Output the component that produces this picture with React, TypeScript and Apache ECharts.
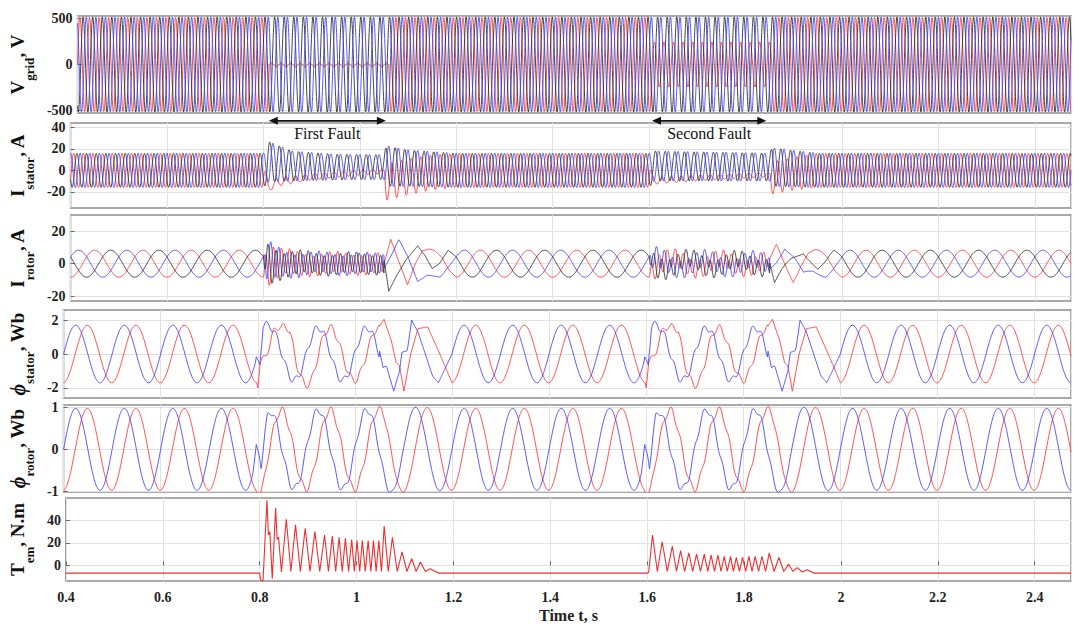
import React, { useEffect, useRef } from "react";
import * as echarts from "echarts";

type KP = [number, number][];

// ---------------- time axis ----------------
const T_START = 0.4;
const T_END = 2.475;
const F_GRID = 50; // Hz
const F_SLIP = 10; // Hz
const F_ROTOR_RIPPLE = 60; // Hz
const FAULT_ONSETS = [0.8, 1.6];
const FAULT_CLEARS = [1.05, 1.85];

// ---------------- annotations ----------------
const FAULT_LABELS = ["First Fault", "Second Fault"];
const FAULT_ARROWS: [number, number][] = [
  [0.811, 1.054],
  [1.606, 1.843],
];

// ---------------- y ticks ----------------
const VGRID_TICKS = [-500, 0, 500];
const ISTATOR_TICKS = [-20, 0, 20, 40];
const IROTOR_TICKS = [-20, 0, 20];
const PHIS_TICKS = [-2, 0, 2];
const PHIR_TICKS = [-1, 0, 1];
const TEM_TICKS = [0, 20, 40];

// ---------------- grid voltage (V) ----------------
const VGRID_HEALTHY_AMP: KP = [[0.4, 515], [2.475, 515]];
const VGRID_RED_AMP: KP = [
  [0.4, 515], [0.8, 515], [0.8, 20], [1.05, 20], [1.05, 515],
  [1.6, 515], [1.6, 245], [1.85, 245], [1.85, 515], [2.475, 515],
];
const VGRID_RED_OFF: KP = [[0.4, 0], [0.8, 0], [0.8, -5], [1.05, -5], [1.05, 0], [2.475, 0]];
const ZERO: KP = [[0.4, 0], [2.475, 0]];

// ---------------- stator current (A) ----------------
const IS_RED_AMP: KP = [
  [0.4, 16], [0.8, 16], [0.805, 4], [0.9, 3], [1.05, 2], [1.052, 17], [1.1, 17], [1.2, 16],
  [1.6, 16], [1.605, 3], [1.85, 2], [1.852, 15], [1.95, 16], [2.475, 16],
];
const IS_RED_OFF: KP = [
  [0.4, 0], [0.8, 0], [0.81, -16], [0.83, -11], [0.9, -6], [1.0, -2], [1.05, -1],
  [1.055, -11], [1.1, -6], [1.15, -2], [1.2, 0],
  [1.6, 0], [1.61, -10], [1.7, -7], [1.85, -4], [1.855, -7], [1.9, -3], [1.95, 0], [2.475, 0],
];
const IS_HEALTHY_AMP: KP = [
  [0.4, 16], [0.8, 16], [0.81, 19], [0.86, 14], [0.95, 12], [1.05, 11.5], [1.055, 19], [1.1, 17], [1.2, 16],
  [1.6, 16], [1.61, 14], [1.85, 13], [1.855, 18], [1.95, 16], [2.475, 16],
];
const IS_HEALTHY_OFF: KP = [
  [0.4, 0], [0.8, 0], [0.81, 8], [0.86, 4], [0.95, 3], [1.05, 3], [1.055, 4], [1.1, 2], [1.2, 0],
  [1.6, 0], [1.61, 4], [1.85, 3], [1.855, 3], [1.95, 0], [2.475, 0],
];

// ---------------- rotor current (A) ----------------
const IR_PEAK_TIME = { blue: 0.4167, red: 0.45, black: 0.4833 };
const IR_NOMINAL = 8.3;
const IR_AMP: KP = [
  [0.4, 8.3], [0.8, 8.3], [0.81, 2], [1.05, 1], [1.05, 8.3],
  [1.6, 8.3], [1.61, 4], [1.85, 3], [1.85, 8.3], [2.475, 8.3],
];
const IR_RIPPLE: KP = [
  [0.4, 0], [0.8, 0], [0.806, 13], [0.84, 8], [0.9, 6.5], [1.05, 6], [1.05, 0],
  [1.6, 0], [1.606, 7], [1.65, 5.5], [1.85, 5], [1.85, 0], [2.475, 0],
];
const IR_POST_SPAN = 0.15;
const IR_POST_SCALE = [1, 0.7];
const IR_RED_POST: KP = [
  [0, 0], [0.014, 15], [0.03, 2], [0.049, -13], [0.065, 0], [0.08, 8], [0.095, 9], [0.105, 8],
  [0.12, 4], [0.135, -4], [0.15, -8.3],
];
const IR_BLUE_POST: KP = [
  [0, -3], [0.015, 5], [0.031, 15], [0.05, 4], [0.07, -11], [0.09, -7], [0.117, -8.3], [0.15, 4.15],
];
const IR_BLACK_POST: KP = [
  [0, 3], [0.01, -17], [0.025, -8], [0.045, 2], [0.07, 11], [0.085, 5], [0.1, -3], [0.115, 0],
  [0.133, 8.3], [0.15, 4.15],
];

// ---------------- stator flux (Wb) ----------------
const PS_PEAK_TIME = { blue: 0.425, red: 0.449 };
const PS_AMP: KP = [
  [0.4, 1.7], [0.8, 1.7], [0.81, 1.55], [1.05, 1.55], [1.05, 1.7],
  [1.6, 1.7], [1.61, 1.55], [1.85, 1.55], [1.85, 1.7], [2.475, 1.7],
];
const PS_RIPPLE: KP = [
  [0.4, 0], [0.8, 0], [0.805, 0.22], [1.05, 0.2], [1.05, 0],
  [1.6, 0], [1.605, 0.22], [1.85, 0.2], [1.85, 0], [2.475, 0],
];
const PS_BLUE_ONSET: KP = [[-0.005, 0], [-0.003, 0.15], [0.004, -1.0], [0.011, 0.7], [0.02, 0.2], [0.03, 0]];
const PS_RED_ONSET: KP = [
  [-0.002, 0], [0, -0.3], [0.005, 1.1], [0.015, 0.6], [0.035, 0.45], [0.049, -0.05], [0.066, 0.6],
  [0.08, 0], [0.11, -0.4], [0.13, 0],
];
const PS_POST_SPAN = 0.15;
const PS_BLUE_POST: KP = [
  [0, 0.3], [0.008, -0.8], [0.015, -0.7], [0.03, -2.2], [0.042, -1.0], [0.047, 0.1], [0.058, 0.2],
  [0.067, 2.0], [0.08, 1.3], [0.095, 0.0], [0.11, -1.3], [0.122, -1.7], [0.15, 0],
];
const PS_RED_POST: KP = [
  [0, 1.6], [0.01, 2.05], [0.025, 0.8], [0.035, -0.5], [0.042, -0.7], [0.051, -2.2], [0.065, 0.0],
  [0.08, 1.5], [0.1, 1.6], [0.125, 0], [0.15, -1.7],
];

// ---------------- rotor flux (Wb) ----------------
const PR_PEAK_TIME = { blue: 0.425, red: 0.449 };
const PR_AMP: KP = [
  [0.4, 0.98], [0.8, 0.98], [0.81, 0.93], [1.05, 0.95], [1.06, 1.03], [1.2, 0.98],
  [1.6, 0.98], [1.61, 0.93], [1.85, 0.95], [1.86, 1.03], [2.0, 0.98], [2.475, 0.98],
];
const PR_RIPPLE: KP = [
  [0.4, 0], [0.8, 0], [0.805, 0.09], [1.05, 0.08], [1.08, 0.03], [1.12, 0],
  [1.6, 0], [1.605, 0.09], [1.85, 0.08], [1.88, 0.03], [1.92, 0], [2.475, 0],
];
const PR_BLUE_ONSET: KP = [[-0.01, 0], [-0.003, 0.3], [0.007, -0.78], [0.02, -0.1], [0.03, 0]];
const PR_RED_ONSET: KP = [[-0.005, 0], [0.01, -0.2], [0.02, 0]];

// ---------------- electromagnetic torque (N.m) ----------------
const TEM_BASE = -7;
const TEM_TROUGH = -5.5;
const TEM_F1_HEAD: KP = [
  [0.8, -7], [0.802, -13.5], [0.807, -13.5], [0.815, 58], [0.818, 27], [0.821, 30], [0.826, -12],
  [0.833, 51], [0.836, 23], [0.839, 25], [0.845, -6],
];
const TEM_F1_PEAKS: KP = [
  [0.855, 41], [0.874, 36], [0.894, 33], [0.914, 30], [0.934, 27], [0.95, 26], [0.964, 25],
  [0.977, 24], [0.99, 23], [1.001, 22], [1.012, 22], [1.024, 22], [1.035, 22], [1.046, 22],
  [1.057, 35], [1.074, 25], [1.094, 12], [1.114, 6], [1.132, 3], [1.152, -3],
];
const TEM_F1_END = 1.17;
const TEM_F2_HEAD: KP = [[1.6, -7], [1.603, -6.5]];
const TEM_F2_PEAKS: KP = [
  [1.611, 27], [1.631, 21], [1.652, 17], [1.669, 13], [1.686, 11], [1.702, 10], [1.718, 10],
  [1.732, 9], [1.746, 9], [1.759, 8], [1.772, 8], [1.784, 7], [1.797, 7], [1.81, 8], [1.823, 8],
  [1.837, 8], [1.852, 11], [1.872, 7], [1.892, 1], [1.91, -2], [1.93, -4],
];
const TEM_F2_END = 1.945;

// ---------------- styles ----------------
const SERIF = "'Liberation Serif', 'Times New Roman', serif";
const RED = "#ff3c3c";
const BLUE = "#4646ff";
const BLACK = "#333333";
const GRID_LINE = "#e2e2e2";
const FRAME = "#8e8e8e";
const LW = 0.9;

function lerp(kp: KP, t: number): number {
  if (t <= kp[0][0]) return kp[0][1];
  for (let i = 1; i < kp.length; i++) {
    if (t <= kp[i][0]) {
      const [t0, v0] = kp[i - 1];
      const [t1, v1] = kp[i];
      if (t1 === t0) return v1;
      return v0 + ((v1 - v0) * (t - t0)) / (t1 - t0);
    }
  }
  return kp[kp.length - 1][1];
}

function sampled(step: number, fn: (t: number) => number): KP {
  const n = Math.round((T_END - T_START) / step);
  const out: KP = [];
  for (let i = 0; i <= n; i++) {
    const t = T_START + i * step;
    out.push([t, fn(t)]);
  }
  return out;
}

const TWO_PI = Math.PI * 2;
const PH = TWO_PI / 3;
const W = TWO_PI * F_GRID;
const WS = TWO_PI * F_SLIP;
const WR = TWO_PI * F_ROTOR_RIPPLE;

function onsetSum(kp: KP, t: number): number {
  let d = 0;
  FAULT_ONSETS.forEach((t0) => {
    const r = t - t0;
    if (r >= kp[0][0] && r <= kp[kp.length - 1][0]) d += lerp(kp, r);
  });
  return d;
}

function rotorCurrent(t: number, tp: number, theta: number, post: KP): number {
  const nat = IR_NOMINAL * Math.cos(WS * (t - tp));
  for (let k = 0; k < FAULT_CLEARS.length; k++) {
    const r = t - FAULT_CLEARS[k];
    if (r > 0 && r <= IR_POST_SPAN) return nat + IR_POST_SCALE[k] * (lerp(post, r) - nat);
  }
  return lerp(IR_AMP, t) * Math.cos(WS * (t - tp)) + lerp(IR_RIPPLE, t) * Math.sin(WR * t + theta);
}

function statorFlux(t: number, tp: number, theta: number, onset: KP, post: KP): number {
  for (let k = 0; k < FAULT_CLEARS.length; k++) {
    const r = t - FAULT_CLEARS[k];
    if (r > 0 && r <= PS_POST_SPAN) return lerp(post, r);
  }
  return lerp(PS_AMP, t) * Math.cos(WS * (t - tp)) + lerp(PS_RIPPLE, t) * Math.sin(W * t + theta) + onsetSum(onset, t);
}

function rotorFlux(t: number, tp: number, theta: number, onset: KP): number {
  return lerp(PR_AMP, t) * Math.cos(WS * (t - tp)) + lerp(PR_RIPPLE, t) * Math.sin(W * t + theta) + onsetSum(onset, t);
}

function torquePoints(): KP {
  const pts: KP = [[T_START, TEM_BASE]];
  const addBurst = (head: KP, peaks: KP, end: number) => {
    head.forEach((p) => pts.push(p));
    peaks.forEach((p, i) => {
      pts.push(p);
      const next = peaks[i + 1];
      if (next) pts.push([(p[0] + next[0]) / 2, Math.min(TEM_TROUGH, next[1] - 2)]);
    });
    pts.push([end, TEM_BASE]);
  };
  addBurst(TEM_F1_HEAD, TEM_F1_PEAKS, TEM_F1_END);
  addBurst(TEM_F2_HEAD, TEM_F2_PEAKS, TEM_F2_END);
  pts.push([T_END, TEM_BASE]);
  return pts;
}

function buildOption() {
  const layout = [
    { top: 16, height: 97, min: -525, max: 525, ticks: VGRID_TICKS, name: "{b|V}{s|grid}{b|, V}" },
    { top: 123, height: 85, min: -35, max: 44, ticks: ISTATOR_TICKS, name: "{b|I}{s|stator}{b|, A}" },
    { top: 215, height: 86, min: -23, max: 30, ticks: IROTOR_TICKS, name: "{b|I}{s|rotor}{b|, A}" },
    { top: 310, height: 88, min: -2.6, max: 2.6, ticks: PHIS_TICKS, name: "{p|ϕ}{s|stator}{b|, Wb}" },
    { top: 405, height: 87, min: -1.02, max: 1.06, ticks: PHIR_TICKS, name: "{p|ϕ}{s|rotor}{b|, Wb}" },
    { top: 498, height: 85, min: -14, max: 60, ticks: TEM_TICKS, name: "{b|T}{s|em}{b|, N.m}" },
  ];
  const rich = {
    b: { fontFamily: SERIF, fontWeight: "bold", fontSize: 19, lineHeight: 28, verticalAlign: "top", color: "#111" },
    p: { fontFamily: SERIF, fontWeight: "bold", fontStyle: "italic", fontSize: 20, lineHeight: 28, verticalAlign: "top", color: "#111" },
    s: { fontFamily: SERIF, fontWeight: "bold", fontSize: 13, lineHeight: 12, verticalAlign: "bottom", color: "#111" },
  };

  const grid = layout.map((l) => ({
    left: 62, right: 3, top: l.top, height: l.height, show: true,
    borderColor: FRAME, borderWidth: 1.5, backgroundColor: "#fff",
  }));
  const xAxis = layout.map((_, i) => ({
    type: "value", gridIndex: i, min: T_START, max: T_END, interval: 0.2,
    axisLine: { show: false },
    axisTick: { show: i === 5, inside: true, length: 4, lineStyle: { color: "#666" } },
    splitLine: { show: true, lineStyle: { color: GRID_LINE, width: 1 } },
    axisLabel: {
      show: i === 5, showMaxLabel: false, margin: 9,
      fontFamily: SERIF, fontWeight: "bold", fontSize: 14, color: "#222",
      formatter: (v: number) => String(Number(v.toFixed(1))),
    },
    name: i === 5 ? "Time t, s" : "",
    nameLocation: "middle", nameGap: 26,
    nameTextStyle: { fontFamily: SERIF, fontWeight: "bold", fontSize: 16, color: "#222" },
  }));
  const yAxis = layout.map((l, i) => ({
    type: "value", gridIndex: i, min: l.min, max: l.max,
    axisLine: { show: false },
    axisTick: { show: true, inside: true, length: 4, customValues: l.ticks, lineStyle: { color: "#666" } },
    splitLine: { show: true, lineStyle: { color: GRID_LINE, width: 1 } },
    axisLabel: {
      customValues: l.ticks, margin: 5,
      fontFamily: SERIF, fontWeight: "bold", fontSize: 14, color: "#222",
    },
    name: l.name, nameLocation: "middle", nameGap: 24, nameRotate: 90,
    nameTextStyle: { rich },
  }));

  const line = (gi: number, color: string, data: KP, width = LW) => ({
    type: "line", xAxisIndex: gi, yAxisIndex: gi, data, showSymbol: false, symbol: "none",
    lineStyle: { color, width }, silent: true, clip: true,
  });

  const series: any[] = [
    line(0, RED, sampled(0.0005, (t) => lerp(VGRID_RED_OFF, t) + lerp(VGRID_RED_AMP, t) * Math.sin(W * t))),
    line(0, BLACK, sampled(0.0005, (t) => lerp(ZERO, t) + lerp(VGRID_HEALTHY_AMP, t) * Math.sin(W * t - PH))),
    line(0, BLUE, sampled(0.0005, (t) => lerp(ZERO, t) + lerp(VGRID_HEALTHY_AMP, t) * Math.sin(W * t + PH))),
    line(1, RED, sampled(0.0005, (t) => lerp(IS_RED_OFF, t) + lerp(IS_RED_AMP, t) * Math.sin(W * t - 0.5))),
    line(1, BLACK, sampled(0.0005, (t) => lerp(IS_HEALTHY_OFF, t) + lerp(IS_HEALTHY_AMP, t) * Math.sin(W * t - 0.5 - PH))),
    line(1, BLUE, sampled(0.0005, (t) => lerp(IS_HEALTHY_OFF, t) + lerp(IS_HEALTHY_AMP, t) * Math.sin(W * t - 0.5 + PH))),
    line(2, RED, sampled(0.0005, (t) => rotorCurrent(t, IR_PEAK_TIME.red, 0, IR_RED_POST))),
    line(2, BLUE, sampled(0.0005, (t) => rotorCurrent(t, IR_PEAK_TIME.blue, PH, IR_BLUE_POST))),
    line(2, BLACK, sampled(0.0005, (t) => rotorCurrent(t, IR_PEAK_TIME.black, -PH, IR_BLACK_POST))),
    line(3, RED, sampled(0.001, (t) => statorFlux(t, PS_PEAK_TIME.red, -PH, PS_RED_ONSET, PS_RED_POST))),
    line(3, BLUE, sampled(0.001, (t) => statorFlux(t, PS_PEAK_TIME.blue, PH, PS_BLUE_ONSET, PS_BLUE_POST))),
    line(4, RED, sampled(0.001, (t) => rotorFlux(t, PR_PEAK_TIME.red, -PH, PR_RED_ONSET))),
    line(4, BLUE, sampled(0.001, (t) => rotorFlux(t, PR_PEAK_TIME.blue, PH, PR_BLUE_ONSET))),
    line(5, "#ee2f2f", torquePoints(), 1.1),
  ];

  return { animation: false, backgroundColor: "#fff", grid, xAxis, yAxis, series };
}

export default function App() {
  const ref = useRef<HTMLDivElement>(null);
  useEffect(() => {
    if (!ref.current) return;
    const chart = echarts.init(ref.current, undefined, { renderer: "svg" });
    chart.setOption(buildOption() as any);
    const graphic: any[] = [];
    FAULT_ARROWS.forEach(([t0, t1], i) => {
      const p0 = chart.convertToPixel({ xAxisIndex: 1, yAxisIndex: 1 } as any, [t0, 46]) as number[];
      const p1 = chart.convertToPixel({ xAxisIndex: 1, yAxisIndex: 1 } as any, [t1, 46]) as number[];
      const pt = chart.convertToPixel({ xAxisIndex: 1, yAxisIndex: 1 } as any, [(t0 + t1) / 2, 34.5]) as number[];
      const y = p0[1];
      graphic.push(
        { type: "line", shape: { x1: p0[0] + 4, y1: y, x2: p1[0] - 4, y2: y }, style: { stroke: "#111", lineWidth: 1.6 }, z: 100 },
        { type: "polygon", shape: { points: [[p0[0], y], [p0[0] + 9, y - 4], [p0[0] + 9, y + 4]] }, style: { fill: "#111" }, z: 100 },
        { type: "polygon", shape: { points: [[p1[0], y], [p1[0] - 9, y - 4], [p1[0] - 9, y + 4]] }, style: { fill: "#111" }, z: 100 },
        {
          type: "text", x: pt[0], y: pt[1], z: 100,
          style: { text: FAULT_LABELS[i], fontFamily: SERIF, fontSize: 16, fill: "#111", align: "center", verticalAlign: "middle" },
        }
      );
    });
    chart.setOption({ graphic });
    return () => chart.dispose();
  }, []);
  return <div ref={ref} style={{ position: "fixed", left: 0, top: 0, width: 1074, height: 624 }} />;
}
